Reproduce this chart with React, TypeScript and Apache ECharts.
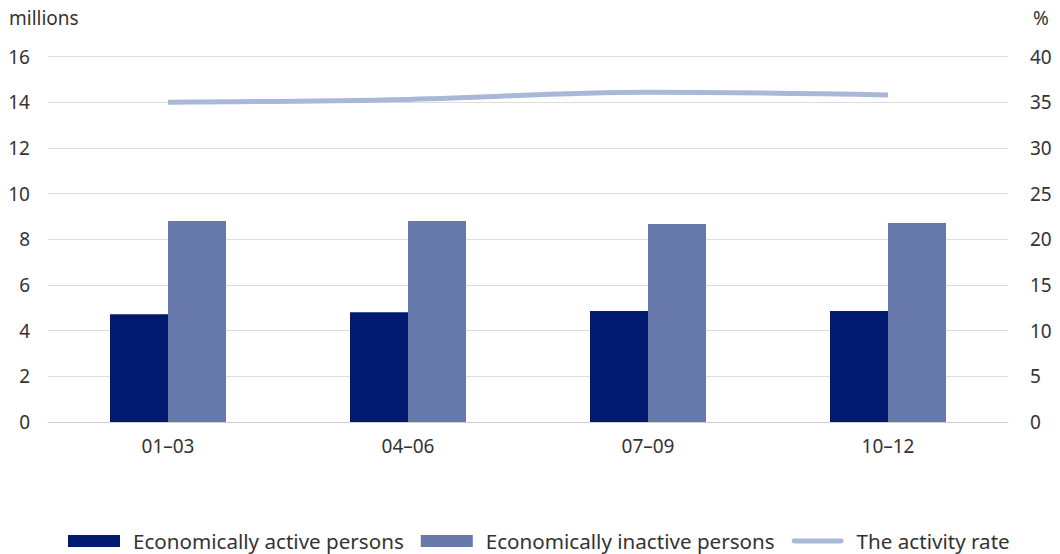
import React, { useEffect, useRef } from "react";
import * as echarts from "echarts";

const categories = ["01–03", "04–06", "07–09", "10–12"];
const activePersons = [4.72, 4.8, 4.86, 4.86];
const inactivePersons = [8.8, 8.8, 8.67, 8.71];
const activityRate = [35.0, 35.3, 36.1, 35.8];
const leftTicks = { min: 0, max: 16, interval: 2 };
const rightTicks = { min: 0, max: 40, interval: 5 };

const FONT = "'Noto Sans', sans-serif";
const TXT = "#333";

export default function App() {
  const ref = useRef<HTMLDivElement>(null);
  useEffect(() => {
    if (!ref.current) return;
    const chart = echarts.init(ref.current, undefined, { renderer: "svg" });
    chart.setOption({
      animation: false,
      textStyle: { fontFamily: FONT, color: TXT },
      grid: { left: 48, right: 52, top: 56.5, bottom: 132, containLabel: false },
      graphic: [
        { type: "text", left: 9, top: 8, style: { text: "millions", font: `19px ${FONT}`, fill: TXT } },
        { type: "text", left: 1033, top: 8, style: { text: "%", font: `19px ${FONT}`, fill: TXT } },
      ],
      legend: {
        top: 530,
        left: 68,
        padding: 0,
        itemWidth: 52,
        itemHeight: 12,
        itemGap: 17,
        textStyle: { fontFamily: FONT, fontSize: 20.6, lineHeight: 22, color: TXT, padding: [0, 0, 0, 8] },
        data: [
          { name: "Economically active persons", icon: "rect" },
          { name: "Economically inactive persons", icon: "rect" },
          { name: "The activity rate", icon: "path://M2,0 L50,0 A2.5,2.5 0 0 1 50,5 L2,5 A2.5,2.5 0 0 1 2,0 Z" },
        ],
      },
      xAxis: {
        type: "category",
        data: categories,
        axisTick: { show: false },
        axisLine: { lineStyle: { color: "#d0d0d0", width: 1 } },
        axisLabel: { fontFamily: FONT, fontSize: 19, color: TXT, margin: 14 },
      },
      yAxis: [
        {
          type: "value",
          ...leftTicks,
          axisLabel: { fontFamily: FONT, fontSize: 19, color: TXT, margin: 18 },
          splitLine: { lineStyle: { color: "#dcdcdc", width: 1 } },
          axisLine: { show: false },
          axisTick: { show: false },
        },
        {
          type: "value",
          ...rightTicks,
          position: "right",
          axisLabel: { fontFamily: FONT, fontSize: 19, color: TXT, margin: 22, align: "left" },
          splitLine: { show: false },
          axisLine: { show: false },
          axisTick: { show: false },
        },
      ],
      series: [
        {
          name: "Economically active persons",
          type: "bar",
          data: activePersons,
          barWidth: 58,
          barGap: "0%",
          itemStyle: { color: "#001a70" },
        },
        {
          name: "Economically inactive persons",
          type: "bar",
          data: inactivePersons,
          barWidth: 58,
          barGap: "0%",
          itemStyle: { color: "#6778ab" },
        },
        {
          name: "The activity rate",
          type: "line",
          yAxisIndex: 1,
          data: activityRate,
          smooth: 0.4,
          showSymbol: false,
          symbol: "none",
          lineStyle: { color: "#a9b8d9", width: 5 },
          itemStyle: { color: "#a9b8d9" },
        },
      ],
    });
    return () => chart.dispose();
  }, []);
  return (
    <div
      ref={ref}
      style={{ position: "fixed", left: 0, top: 0, width: 1060, height: 554, background: "#fff" }}
    />
  );
}
